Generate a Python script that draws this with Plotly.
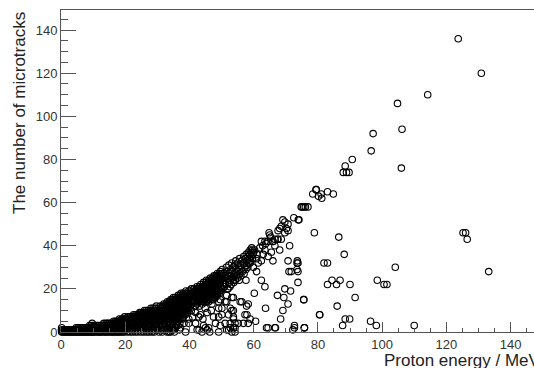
import plotly.graph_objects as go

# ---------------- data ----------------
# low-energy dense band, 0-10 MeV
energy_a = [0.2, 0.9, 1.6, 2.4, 3.1, 3.9, 4.6, 5.3, 6.1, 6.8, 7.6, 8.3, 9.1, 9.8,
            0.5, 1.3, 2.0, 2.8, 3.5, 4.3, 5.0, 5.8, 6.5, 7.2, 8.0, 8.7, 9.5,
            0.2, 5.2, 6.3, 7.4, 8.5, 9.4,
            8.9, 9.9, 9.7,
            0.55, 1.25, 2.0, 2.75, 3.5, 4.25, 4.95, 5.7, 6.45, 7.2, 7.95, 8.7, 9.45,
            0.15, 0.9, 1.65, 2.4, 3.15, 3.9, 4.65, 5.4, 6.15, 6.85, 7.6, 8.35, 9.1, 9.85,
            4.7, 5.75, 6.85, 7.95, 8.95, 9.8,
            9.35]
tracks_a = [0, 0, 0, 0, 0, 0, 0, 0, 0, 0, 0, 0, 0, 0,
            1, 1, 1, 1, 1, 1, 1, 1, 1, 1, 1, 1, 1,
            2, 2, 2, 2, 2, 2,
            3, 3, 4,
            0, 0, 0, 0, 0, 0, 0, 0, 0, 0, 0, 0, 0,
            1, 1, 1, 1, 1, 1, 1, 1, 1, 1, 1, 1, 1, 1,
            2, 2, 2, 2, 2, 2,
            3]

# 10-20 MeV
energy_b = [10.5, 11.6, 12.4, 13.5, 14.3, 15.4, 16.2, 17.3, 18.1, 19.2,
            10.2, 11.1, 12.0, 13.0, 13.9, 14.8, 15.8, 16.7, 17.6, 18.6, 19.6,
            10.7, 11.8, 12.8, 13.7, 14.6, 15.6, 16.5, 17.4, 18.4, 19.3,
            10.4, 11.4, 12.6, 13.6, 14.7, 15.9, 16.9, 17.9, 18.9, 19.8,
            13.3, 14.5, 15.5, 16.6, 17.7, 18.7, 19.5,
            16.4, 17.5, 18.3, 19.1, 19.9,
            18.2, 18.9, 19.7,
            19.8,
            10.0, 11.1, 12.0, 12.9, 13.9, 14.8, 15.8, 16.7, 17.7, 18.6, 19.6,
            10.6, 11.5, 12.5, 13.4, 14.3, 15.3, 16.2, 17.1, 18.1, 19.1,
            10.2, 11.3, 12.3, 13.2, 14.1, 15.1, 16.0, 16.9, 17.9, 18.8, 19.7,
            10.9, 11.9, 13.1, 14.2, 15.3, 16.4, 17.4, 18.4, 19.3,
            14.0, 15.0, 16.1, 17.2, 18.2, 19.1, 19.9,
            17.0, 17.9, 18.7, 19.5,
            19.3]
tracks_b = [0, 0, 0, 0, 0, 0, 0, 0, 0, 0,
            1, 1, 1, 1, 1, 1, 1, 1, 1, 1, 1,
            2, 2, 2, 2, 2, 2, 2, 2, 2, 2,
            3, 3, 3, 3, 3, 3, 3, 3, 3, 3,
            4, 4, 4, 4, 4, 4, 4,
            5, 5, 5, 5, 5,
            6, 6, 6,
            7,
            0, 0, 0, 0, 0, 0, 0, 0, 0, 0, 0,
            1, 1, 1, 1, 1, 1, 1, 1, 1, 1,
            2, 2, 2, 2, 2, 2, 2, 2, 2, 2, 2,
            3, 3, 3, 3, 3, 3, 3, 3, 3,
            4, 4, 4, 4, 4, 4, 4,
            5, 5, 5, 5,
            6]

# 20-30 MeV
energy_c = [20.6, 22.3, 23.9, 25.8, 27.4, 29.1,
            21.4, 23.1, 24.8, 26.6, 28.3,
            20.2, 22.0, 24.1, 26.0, 27.9, 29.6,
            21.0, 23.0, 25.2, 27.1, 29.0,
            20.5, 22.5, 24.4, 26.3, 28.6,
            21.3, 23.5, 25.6, 27.5, 29.4,
            20.4, 21.8, 22.9, 24.0, 25.1, 26.5, 27.8, 28.9,
            20.8, 22.1, 23.3, 24.6, 25.9, 27.0, 28.2, 29.5,
            22.6, 23.8, 25.0, 26.2, 27.4, 28.7, 29.8,
            24.5, 25.5, 26.8, 27.9, 29.0,
            26.0, 27.2, 28.4, 29.3,
            28.0, 29.2,
            29.7,
            21.5, 23.1, 24.9, 26.7, 28.3,
            20.3, 22.2, 24.0, 25.7, 27.5, 29.2,
            21.1, 23.1, 25.0, 27.0, 28.8,
            20.1, 22.0, 24.1, 26.1, 28.1, 29.8,
            21.5, 23.4, 25.4, 27.4, 29.4,
            20.2, 22.4, 24.5, 26.5, 28.5,
            21.2, 22.4, 23.5, 24.6, 25.8, 27.2, 28.3, 29.5,
            21.5, 22.7, 24.0, 25.2, 26.4, 27.6, 28.9,
            23.2, 24.4, 25.6, 26.8, 28.1, 29.2,
            25.0, 26.2, 27.4, 28.5, 29.6,
            26.6, 27.8, 28.9,
            28.6, 29.7]
tracks_c = [0, 0, 0, 0, 0, 0,
            1, 1, 1, 1, 1,
            2, 2, 2, 2, 2, 2,
            3, 3, 3, 3, 3,
            4, 4, 4, 4, 4,
            5, 5, 5, 5, 5,
            6, 6, 6, 6, 6, 6, 6, 6,
            7, 7, 7, 7, 7, 7, 7, 7,
            8, 8, 8, 8, 8, 8, 8,
            9, 9, 9, 9, 9,
            10, 10, 10, 10,
            11, 11,
            12,
            0, 0, 0, 0, 0,
            1, 1, 1, 1, 1, 1,
            2, 2, 2, 2, 2,
            3, 3, 3, 3, 3, 3,
            4, 4, 4, 4, 4,
            5, 5, 5, 5, 5,
            6, 6, 6, 6, 6, 6, 6, 6,
            7, 7, 7, 7, 7, 7, 7,
            8, 8, 8, 8, 8, 8,
            9, 9, 9, 9, 9,
            10, 10, 10,
            11, 11]

# 30-40 MeV
energy_d = [30.5, 32.8, 34.1, 35.6, 31.7, 33.3, 36.9, 30.9, 32.2, 34.6, 31.2, 33.9,
            35.2, 36.4, 37.9, 30.0, 31.0, 32.5, 33.6, 35.0, 36.1, 34.8, 37.0,
            30.2, 31.4, 32.9, 34.3, 35.7,
            30.8, 32.0, 33.5, 35.0, 36.4,
            30.4, 31.6, 32.7, 33.9, 35.3, 36.8, 38.0,
            31.1, 32.4, 33.6, 34.8, 36.1, 37.5, 38.8,
            30.6, 31.9, 33.2, 34.5, 35.8, 37.0, 38.4, 39.6,
            31.4, 32.7, 34.0, 35.3, 36.6, 37.9, 39.2,
            30.9, 32.3, 33.7, 35.1, 36.3, 37.6, 38.9,
            32.0, 33.4, 34.7, 36.0, 37.3, 38.6, 39.9,
            33.1, 34.3, 35.6, 36.9, 38.2, 39.4,
            34.2, 35.4, 36.7, 37.9, 39.1,
            35.0, 36.3, 37.6, 38.8,
            36.5, 37.8, 39.3,
            37.4, 38.6, 39.7,
            38.9, 39.8]
tracks_d = [0, 1, 0, 2, 3, 4, 1, 5, 6, 3, 1, 2,
            5, 3, 6, 2, 4, 3, 0, 1, 5, 4, 4,
            6, 6, 6, 6, 6,
            7, 7, 7, 7, 7,
            8, 8, 8, 8, 8, 8, 8,
            9, 9, 9, 9, 9, 9, 9,
            10, 10, 10, 10, 10, 10, 10, 10,
            11, 11, 11, 11, 11, 11, 11,
            12, 12, 12, 12, 12, 12, 12,
            13, 13, 13, 13, 13, 13, 13,
            14, 14, 14, 14, 14, 14,
            15, 15, 15, 15, 15,
            16, 16, 16, 16,
            17, 17, 17,
            18, 18, 18,
            19, 19]

# 30-40 MeV, second layer of the dense band
energy_d2 = [31.5, 33.0, 35.3,
             30.2, 31.8, 34.1,
             31.0, 33.0, 34.6,
             30.4, 33.7, 35.9,
             32.1, 34.0, 35.5,
             31.6, 33.2, 34.9,
             30.8, 32.2, 33.6, 35.0, 36.4, 37.3,
             31.4, 32.7, 34.2, 35.7, 37.0, 38.1,
             31.0, 32.2, 33.3, 34.6, 36.0, 37.4, 38.7,
             30.5, 31.8, 33.0, 34.2, 35.4, 36.8, 38.1, 39.4,
             31.2, 32.5, 33.8, 35.1, 36.4, 37.7, 39.0,
             32.0, 33.3, 34.6, 35.9, 37.2, 38.5, 39.8,
             31.6, 33.0, 34.4, 35.7, 37.0, 38.3, 39.5,
             32.7, 34.0, 35.3, 36.6, 38.0, 39.3,
             33.7, 35.0, 36.3, 37.5, 38.8,
             34.8, 36.1, 37.3, 38.5, 39.7,
             35.6, 36.9, 38.2, 39.4,
             37.1, 38.5, 39.8,
             38.0, 39.2]
tracks_d2 = [0, 0, 0,
             1, 1, 1,
             2, 2, 2,
             3, 3, 3,
             4, 4, 4,
             5, 5, 5,
             6, 6, 6, 6, 6, 6,
             7, 7, 7, 7, 7, 7,
             8, 8, 8, 8, 8, 8, 8,
             9, 9, 9, 9, 9, 9, 9, 9,
             10, 10, 10, 10, 10, 10, 10,
             11, 11, 11, 11, 11, 11, 11,
             12, 12, 12, 12, 12, 12, 12,
             13, 13, 13, 13, 13, 13,
             14, 14, 14, 14, 14,
             15, 15, 15, 15, 15,
             16, 16, 16, 16,
             17, 17, 17,
             18, 18]

# 40-50 MeV band
energy_e = [40.3, 41.8, 43.1,
            40.8, 42.4, 44.0,
            40.2, 41.5, 43.0, 44.6, 46.0,
            40.7, 42.1, 43.6, 45.2, 46.7,
            41.2, 42.8, 44.3, 45.8, 47.3,
            40.5, 42.0, 43.5, 45.0, 46.4, 48.0,
            41.0, 42.6, 44.1, 45.6, 47.1, 48.6,
            40.4, 41.7, 43.3, 44.8, 46.3, 47.8, 49.3,
            41.4, 42.9, 44.5, 46.0, 47.5, 49.0,
            42.3, 43.9, 45.4, 46.9, 48.4, 49.8,
            43.5, 45.0, 46.6, 48.1, 49.5,
            44.4, 45.9, 47.4, 48.9,
            45.3, 46.8, 48.3, 49.7,
            46.5, 47.9, 49.2,
            47.6, 48.8,
            48.6, 49.9,
            49.6]
tracks_e = [12, 12, 12,
            13, 13, 13,
            14, 14, 14, 14, 14,
            15, 15, 15, 15, 15,
            16, 16, 16, 16, 16,
            17, 17, 17, 17, 17, 17,
            18, 18, 18, 18, 18, 18,
            19, 19, 19, 19, 19, 19, 19,
            20, 20, 20, 20, 20, 20,
            21, 21, 21, 21, 21, 21,
            22, 22, 22, 22, 22,
            23, 23, 23, 23,
            24, 24, 24, 24,
            25, 25, 25,
            26, 26,
            27, 27,
            28]

# 40-50 MeV, second layer of the band
energy_e2 = [40.9, 42.3, 43.8, 45.3,
             41.4, 42.9, 44.4, 45.9, 47.4,
             40.4, 42.0, 43.6, 45.1, 46.6, 48.1,
             41.2, 42.8, 44.3, 45.7, 47.2, 48.7,
             40.3, 41.8, 43.4, 44.9, 46.4, 47.9, 49.4,
             42.5, 44.1, 45.6, 47.1, 48.6,
             40.6, 42.2, 43.7, 45.2, 46.8, 48.3, 49.8,
             43.1, 44.7, 46.2, 47.7, 49.1,
             44.3, 45.8, 47.3, 48.8,
             45.2, 46.7, 48.2, 49.6,
             46.0, 47.6, 49.0,
             47.2, 48.6, 49.9,
             48.2, 49.5,
             49.3]
tracks_e2 = [14, 14, 14, 14,
             15, 15, 15, 15, 15,
             16, 16, 16, 16, 16, 16,
             17, 17, 17, 17, 17, 17,
             18, 18, 18, 18, 18, 18, 18,
             19, 19, 19, 19, 19,
             20, 20, 20, 20, 20, 20, 20,
             21, 21, 21, 21, 21,
             22, 22, 22, 22,
             23, 23, 23, 23,
             24, 24, 24,
             25, 25, 25,
             26, 26,
             27]

# 35-50 MeV, below the band
energy_e_low = [38.8, 41.7, 41.9, 43.4, 38.3, 39.8, 41.9, 45.0, 45.5, 48.1, 50.1, 49.6,
                42.9, 45.5, 44.4, 42.4, 46.0, 39.8, 37.2, 34.7, 38.8, 43.9, 49.1, 44.2,
                46.8, 47.5, 43.0, 46.3, 40.6, 44.9, 47.0, 37.2, 41.0]
tracks_e_low = [9, 12, 9, 8, 4, 4, 4, 2, 1, 4, 8, 3,
                7, 9, 3, 1, 2, 6, 2, 1, 0, 0, 0, 6,
                10, 7, 1, 0, 10, 11, 13, 12, 7]

# 50-60 MeV band
energy_f = [50.4, 52.0,
            50.9, 52.6,
            51.3, 53.0,
            50.6, 52.2, 53.8,
            51.0, 52.7, 54.3, 55.5,
            50.3, 51.8, 53.4, 55.0,
            51.2, 53.0, 54.6, 56.0,
            50.7, 52.4, 54.0, 55.6, 57.0,
            51.6, 53.3, 55.0, 56.5,
            50.2, 52.8, 54.5, 56.1, 57.6,
            51.5, 53.6, 55.3, 57.2, 58.2,
            52.3, 54.2, 56.0, 57.8,
            53.2, 55.1, 56.8, 58.5,
            54.4, 56.3, 57.9, 59.0,
            55.6, 57.4, 58.6, 59.6,
            56.9, 58.2, 59.3,
            57.7, 58.8, 59.8,
            58.4, 59.2, 60.0,
            58.9, 59.6,
            59.4]
tracks_f = [20, 20,
            21, 21,
            22, 22,
            23, 23, 23,
            24, 24, 24, 24,
            25, 25, 25, 25,
            26, 26, 26, 26,
            27, 27, 27, 27, 27,
            28, 28, 28, 28,
            29, 29, 29, 29, 29,
            30, 30, 30, 30, 30,
            31, 31, 31, 31,
            32, 32, 32, 32,
            33, 33, 33, 33,
            34, 34, 34, 34,
            35, 35, 35,
            36, 36, 36,
            37, 37, 37,
            38, 38,
            39]

# 49-61 MeV, below the band
energy_f_low = [52.2, 53.7, 54.2, 52.7, 53.7, 55.2, 56.8, 52.2, 49.1, 51.1, 53.2, 55.8,
                57.8, 51.6, 49.6, 51.9, 53.7, 52.2, 49.1, 49.6, 51.6, 50.1, 52.7, 49.1,
                51.1, 53.7, 51.6, 53.2, 54.2, 53.7, 53.2, 53.7, 52.7, 54.2, 58.3, 58.9,
                57.3, 57.9, 60.6, 56.3, 58.3, 57.6, 60.2]
tracks_f_low = [8, 10, 4, 2, 2, 4, 4, 1, 11, 14, 16, 14,
                12, 17, 19, 20, 24, 26, 14, 15, 14, 11, 11, 7,
                4, 6, 1, 0, 0, 16, 10, 7, 4, 2, 4, 6,
                8, 8, 5, 14, 13, 24, 18]

# 58-75 MeV band
energy_g = [64.8, 65.3, 64.5, 63.5, 62.4, 66.0, 63.8, 66.6, 67.4, 69.1, 70.7, 69.7,
            68.6, 68.1, 70.2, 67.6, 72.5, 73.9, 71.2, 68.1, 66.0, 61.4, 62.4, 60.9,
            63.0, 64.5, 65.5, 63.5, 61.9, 66.6, 67.6, 66.0, 68.6, 69.7, 70.7, 65.0,
            70.7, 59.9, 58.9, 60.9, 62.4, 61.0, 60.3, 62.8]
tracks_g = [46, 44, 42, 42, 42, 42, 41, 43, 43, 52, 50, 51,
            49, 48, 48, 47, 53, 52, 40, 38, 33, 32, 33, 34,
            36, 35, 37, 38, 39, 40, 43, 42, 43, 46, 47, 45,
            33, 30, 32, 28, 24, 36, 38, 40]

# 60-76 MeV, below the band
energy_g_low = [63.5, 63.7, 67.4, 69.4, 69.7, 69.1, 68.4, 64.5, 66.8, 72.7, 72.2, 75.8,
                75.6, 71.5, 73.5, 73.5, 71.0, 71.7, 73.6, 70.7, 64.0, 66.6, 72.7, 75.8,
                73.8]
tracks_g_low = [21, 11, 17, 16, 20, 10, 6, 2, 2, 3, 1, 2,
                15, 19, 29, 32, 28, 28, 33, 13, 2, 2, 2, 2,
                23]

# 74-135 MeV, sparse points
energy_h = [75.1, 76.1, 74.8, 76.9, 75.6, 74.1, 78.9, 79.5, 78.4, 80.2, 81.2, 81.0,
            83.0, 84.8, 79.4, 88.5, 87.9, 88.9, 89.7, 90.7, 96.6, 97.2, 106.0, 106.2,
            104.8, 114.2, 123.7, 130.9, 86.5, 88.2, 73.8, 73.8, 81.9, 83.0, 83.0, 84.4,
            85.8, 86.9, 90.0, 91.6, 86.0, 80.6, 75.6, 88.5, 89.9, 87.7, 75.8, 96.4,
            98.2, 98.5, 100.6, 101.5, 104.1, 110.0, 125.2, 126.0, 126.5, 133.2, 80.5]
tracks_h = [58, 58, 58, 58, 58, 52, 46, 66, 64, 63, 62, 64,
            65, 64, 66, 77, 74, 74, 74, 80, 84, 92, 76, 94,
            106, 110, 136, 120, 44, 36, 32, 28, 32, 32, 22, 24,
            22, 24, 22, 16, 12, 8, 15, 6, 6, 3, 2, 5,
            3, 24, 22, 22, 30, 3, 46, 46, 43, 28, 8]

x_major_ticks = [0, 20, 40, 60, 80, 100, 120, 140]
x_mid_ticks = [10, 30, 50, 70, 90, 110, 130]
y_major_ticks = [0, 20, 40, 60, 80, 100, 120, 140]

x_title = "Proton energy / MeV"
y_title = "The number of microtracks"

# ---------------- figure ----------------
energy = (energy_a + energy_b + energy_c + energy_d + energy_d2 + energy_e + energy_e2 +
          energy_e_low + energy_f + energy_f_low + energy_g + energy_g_low + energy_h)
tracks = (tracks_a + tracks_b + tracks_c + tracks_d + tracks_d2 + tracks_e + tracks_e2 +
          tracks_e_low + tracks_f + tracks_f_low + tracks_g + tracks_g_low + tracks_h)

FONT = "Liberation Sans, Arial, sans-serif"
AX = "#555555"
X_RANGE = [0, 147.3]
Y_RANGE = [0, 149.3]

fig = go.Figure()
fig.add_trace(go.Scatter(
    x=energy, y=tracks, mode="markers", cliponaxis=False,
    marker=dict(symbol="circle-open", size=6.5, color="#000000",
                line=dict(width=1.1, color="#000000")),
    hoverinfo="skip", showlegend=False,
))

fig.update_layout(
    width=534, height=368,
    margin=dict(l=61, r=0, t=10, b=36, autoexpand=False),
    plot_bgcolor="white", paper_bgcolor="white",
    showlegend=False,
    font=dict(family=FONT, size=13, color="#333333"),
    xaxis=dict(
        range=X_RANGE, showgrid=False, zeroline=False, automargin=False,
        showline=True, linecolor=AX, linewidth=1, mirror=True,
        ticks="inside", ticklen=10, tickcolor=AX, tickwidth=1,
        tickmode="array", tickvals=x_major_ticks,
        tickfont=dict(family=FONT, size=13, color="#333333"),
        minor=dict(dtick=5, tick0=0, ticks="inside", ticklen=4,
                   tickcolor=AX, showgrid=False),
    ),
    xaxis2=dict(
        range=X_RANGE, overlaying="x", anchor="y", side="bottom",
        showgrid=False, zeroline=False, showline=False, automargin=False,
        ticks="inside", ticklen=7, tickcolor=AX, tickwidth=1,
        tickmode="array", tickvals=x_mid_ticks, showticklabels=False,
    ),
    yaxis=dict(
        range=Y_RANGE, showgrid=False, zeroline=False, automargin=False,
        showline=True, linecolor=AX, linewidth=1,
        ticks="inside", ticklen=15, tickcolor=AX, tickwidth=1,
        tickmode="array", tickvals=y_major_ticks,
        tickfont=dict(family=FONT, size=13, color="#333333"),
        minor=dict(dtick=5, tick0=0, ticks="inside", ticklen=7,
                   tickcolor=AX, showgrid=False),
    ),
    annotations=[
        dict(text=x_title, xref="paper", yref="paper",
             x=0.678, y=-0.087, xanchor="left", yanchor="middle",
             showarrow=False, font=dict(family=FONT, size=17, color="#222222")),
        dict(text=y_title, xref="paper", yref="paper", textangle=-90,
             x=-0.0888, y=1.0, xanchor="center", yanchor="top",
             showarrow=False, font=dict(family=FONT, size=17, color="#222222")),
    ],
)

# remove the page's default 8 px body margin so the 534x368 figure fills the window
fig.write_html(
    "out.html",
    config={"displayModeBar": False, "staticPlot": True},
    post_script="document.body.style.margin='0';document.body.style.overflow='hidden';",
)
